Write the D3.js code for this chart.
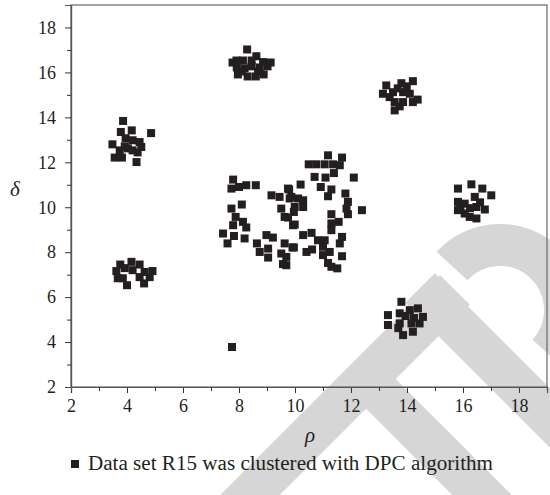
<!DOCTYPE html>
<html>
<head>
<meta charset="utf-8">
<script src="https://cdn.jsdelivr.net/npm/d3@7/dist/d3.min.js"></script>
<style>
  body { margin: 0; background: #fff; }
  svg text { font-family: "Liberation Serif", "DejaVu Serif", serif; fill: #231f20; }
</style>
</head>
<body>
<svg id="canvas" width="550" height="495"></svg>
<script>
// axis ranges and ticks
const rhoDomain = [2, 19]
const deltaDomain = [2, 19]
const majorTicks = [2, 4, 6, 8, 10, 12, 14, 16, 18]
const minorTicks = [3, 5, 7, 9, 11, 13, 15, 17]
const legendLabel = "Data set R15 was clustered with DPC algorithm"

// clusters, [rho, delta]
const clusterTopLeft = [[3.86,13.84],[4.86,13.30],[3.78,13.35],[4.17,13.42],[3.48,12.80],[4.45,12.90],[4.51,12.68],
  [3.56,12.21],[3.82,12.21],[4.34,12.01],[3.95,13.07],[4.20,12.98],[4.03,12.62],[4.20,12.53],[3.74,12.53],[4.38,12.44],[3.92,12.71]]
const clusterBottomLeft = [[3.76,7.45],[4.16,7.57],[4.45,7.45],[3.62,7.16],[4.91,7.16],[4.63,7.12],[4.00,6.53],[4.61,6.61],
  [3.85,6.84],[4.20,7.20],[3.92,7.29],[4.45,6.89],[3.67,6.84],[4.81,6.89]]
const clusterTop = [[8.29,17.02],[7.91,16.53],[8.14,16.53],[8.62,16.72],[8.86,16.46],[7.92,16.22],[8.20,16.18],[8.45,16.27],
  [8.74,16.22],[9.02,16.27],[7.96,15.91],[8.31,15.82],[8.60,15.82],[8.88,15.91],[8.11,16.04],[8.68,16.04],[8.45,16.53],[9.13,16.44],[7.77,16.44]]
const clusterTopRight = [[13.26,15.42],[13.80,15.52],[14.21,15.61],[13.14,15.05],[13.50,15.12],[13.86,15.12],[14.10,15.05],
  [14.21,14.68],[13.56,14.68],[13.86,14.68],[13.56,14.31],[13.38,14.90],[13.67,15.29],[13.99,15.38],[13.74,14.49],[14.38,14.79]]
const clusterRight = [[15.82,10.83],[16.30,11.02],[16.69,10.83],[17.01,10.53],[15.82,10.24],[15.82,9.87],[16.06,10.16],
  [16.06,9.72],[16.42,10.46],[16.48,10.01],[16.48,9.50],[16.78,9.90],[16.24,9.57],[16.25,9.96],[15.91,10.04],[16.61,10.22]]
const clusterBottomRight = [[13.80,5.79],[13.32,5.20],[13.32,4.76],[13.74,5.28],[14.10,5.42],[14.39,5.50],[14.57,5.12],
  [13.74,4.83],[14.16,4.83],[13.86,4.31],[14.21,4.46],[14.45,4.83],[13.95,5.16],[13.69,4.62],[14.25,5.07]]
const clusterCentreLeft = [[7.79,11.23],[7.73,10.83],[8.00,10.90],[8.26,10.98],[8.60,10.98],[8.10,10.12],[7.73,9.94],
  [7.88,9.57],[7.79,9.20],[8.14,9.35],[8.26,9.10],[7.43,8.83],[7.82,8.72],[8.20,8.61],[7.59,8.39],[8.98,8.76],[9.21,8.65],
  [8.64,8.39],[8.74,8.01],[9.04,8.16],[9.04,7.76],[9.63,8.39],[9.51,7.94],[9.57,7.47],[9.91,8.21]]
const clusterCentre = [[9.16,10.53],[9.45,10.46],[9.79,10.79],[9.51,9.94],[9.63,9.57],[9.99,10.01],[9.81,10.39],[9.93,9.20],
  [9.75,10.83],[9.87,10.46],[10.11,10.39],[10.29,10.31],[10.29,10.01],[9.96,9.79],[9.75,9.54],[9.99,9.23],[10.20,11.01]]
const clusterCentreRight = [[11.18,12.31],[11.68,12.21],[10.49,11.91],[10.76,11.91],[11.06,11.91],[11.36,11.91],[11.60,11.87],
  [10.70,11.35],[11.09,11.32],[11.39,11.52],[12.10,11.32],[10.92,10.90],[11.30,10.79],[11.18,10.49],[11.80,10.61],
  [11.89,10.24],[11.84,9.94],[11.89,9.69],[12.39,9.87],[11.30,9.69],[11.30,9.28],[11.30,8.98],[11.56,9.35],[10.29,8.76],
  [10.59,8.86],[10.82,8.53],[11.06,8.53],[11.68,8.68],[11.60,8.39],[9.96,8.21],[9.69,7.79],[9.69,7.42],[10.41,8.01],
  [10.61,8.12],[11.00,8.24],[11.00,7.87],[11.24,8.01],[11.68,7.82],[11.18,7.52],[11.30,7.35],[11.51,7.28]]
const outliers = [[7.75,3.78]]

const points = [].concat(clusterTopLeft, clusterBottomLeft, clusterTop, clusterTopRight, clusterRight,
  clusterBottomRight, clusterCentreLeft, clusterCentre, clusterCentreRight, outliers)

const svg = d3.select('#canvas')
const plotLeft = 71, plotRight = 547, plotTop = 5, plotBottom = 387
const serif = '"Liberation Serif", "DejaVu Serif", serif'

// watermark behind the chart
const wm = svg.append('g')
  .attr('fill', 'none')
  .attr('stroke', '#d6d6d6')
  .attr('stroke-width', 42)
wm.append('path').attr('d', 'M205,540 L455,290')
wm.append('path').attr('d', 'M366,379 L530,543')
wm.append('path').attr('d', 'M420,288 L620,488')
wm.append('path').attr('d', 'M452,266 A65,65 0 1,1 548,354')

const x = d3.scaleLinear().domain(rhoDomain).range([plotLeft, plotRight])
const y = d3.scaleLinear().domain(deltaDomain).range([plotBottom, plotTop])

// frame
svg.append('rect')
  .attr('x', plotLeft).attr('y', plotTop)
  .attr('width', plotRight - plotLeft).attr('height', plotBottom - plotTop)
  .attr('fill', 'none')
  .attr('stroke', '#666')
  .attr('stroke-width', 1.2)

svg.append('g').attr('transform', `translate(0,${plotBottom})`)
  .call(d3.axisBottom(x).tickValues(majorTicks).tickSize(6).tickPadding(6).tickFormat(d3.format('d')))
svg.append('g').attr('transform', `translate(0,${plotBottom})`)
  .call(d3.axisBottom(x).tickValues(minorTicks).tickSize(4).tickFormat(''))
svg.append('g').attr('transform', `translate(${plotLeft},0)`)
  .call(d3.axisLeft(y).tickValues(majorTicks).tickSize(6).tickPadding(9).tickFormat(d3.format('d')))
svg.append('g').attr('transform', `translate(${plotLeft},0)`)
  .call(d3.axisLeft(y).tickValues(minorTicks).tickSize(4).tickFormat(''))

svg.selectAll('.domain').attr('stroke', '#555').attr('stroke-width', 1.2)
svg.selectAll('.tick line').attr('stroke', '#333')
svg.selectAll('.tick text')
  .style('font-family', serif)
  .style('font-size', '18px')
  .style('fill', '#231f20')

// points
svg.append('g')
  .selectAll('rect')
  .data(points)
  .enter()
  .append('rect')
  .attr('x', d => x(d[0]) - 4)
  .attr('y', d => y(d[1]) - 4)
  .attr('width', 8)
  .attr('height', 8)
  .attr('fill', '#231f20')

// axis titles
svg.append('text')
  .attr('x', 310).attr('y', 442)
  .attr('text-anchor', 'middle')
  .style('font-size', '21px')
  .style('font-style', 'italic')
  .text('ρ')
svg.append('text')
  .attr('x', 15).attr('y', 196)
  .attr('text-anchor', 'middle')
  .style('font-size', '21px')
  .style('font-style', 'italic')
  .text('δ')

// legend
svg.append('rect')
  .attr('x', 71).attr('y', 460)
  .attr('width', 8).attr('height', 8)
  .attr('fill', '#231f20')
svg.append('text')
  .attr('x', 88).attr('y', 470)
  .attr('textLength', 405)
  .attr('lengthAdjust', 'spacingAndGlyphs')
  .style('font-size', '20px')
  .text(legendLabel)
</script>
</body>
</html>
